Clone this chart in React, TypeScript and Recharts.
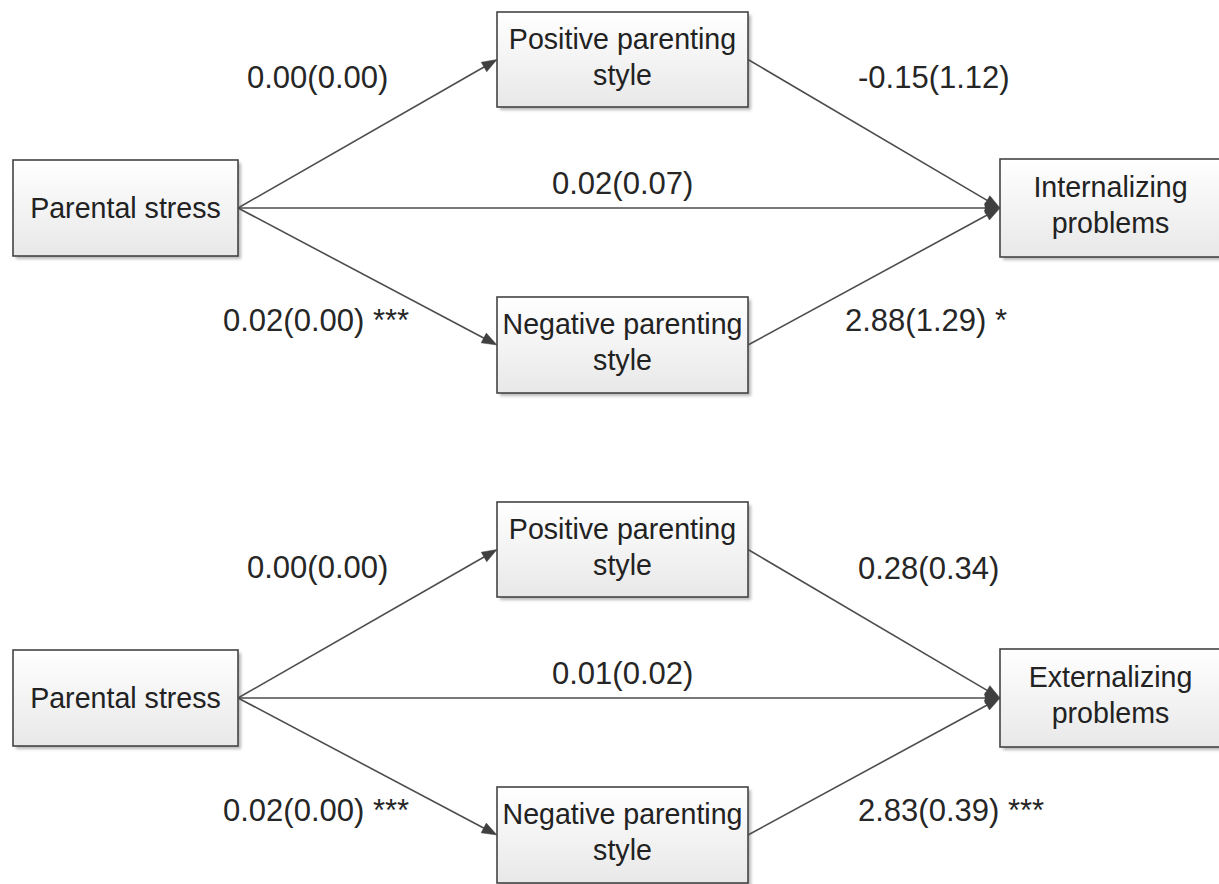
import React from 'react';
import { ComposedChart, XAxis, YAxis, ReferenceLine, ReferenceArea, Scatter } from 'recharts';

const W = 1219;
const H = 884;

// Nodes of the two path models (diagram space, y grows downward)
const nodeLabels: string[][] = [
  ['Parental stress'],
  ['Positive parenting', 'style'],
  ['Negative parenting', 'style'],
  ['Internalizing', 'problems'],
  ['Parental stress'],
  ['Positive parenting', 'style'],
  ['Negative parenting', 'style'],
  ['Externalizing', 'problems'],
];
const nodeLeft = [13, 497, 497, 1000, 13, 497, 497, 1000];
const nodeRight = [238, 748, 748, 1221, 238, 748, 748, 1221];
const nodeTop = [160, 12, 297, 159, 650, 502, 787, 649];
const nodeBottom = [256, 107, 393, 257, 746, 597, 883, 747];

// Paths: source node -> target node, with coefficient (SE) labels
const edgeFrom = [0, 0, 0, 1, 2, 4, 4, 4, 5, 6];
const edgeTo = [1, 2, 3, 3, 3, 5, 6, 7, 7, 7];
const coefText = [
  '0.00(0.00)',
  '0.02(0.00) ***',
  '0.02(0.07)',
  '-0.15(1.12)',
  '2.88(1.29) *',
  '0.00(0.00)',
  '0.02(0.00) ***',
  '0.01(0.02)',
  '0.28(0.34)',
  '2.83(0.39) ***',
];
const coefX = [247, 223, 552, 858, 845, 247, 223, 552, 858, 858];
const coefY = [88, 331, 194, 88, 331, 578, 821, 684, 579, 821];

const FONT = '"Liberation Sans", Arial, sans-serif';
const LINE = '#4d4d4d';

const midY = (i: number) => (nodeTop[i] + nodeBottom[i]) / 2;

const edges = edgeFrom.map((f, i) => ({
  x1: nodeRight[f],
  y1: midY(f),
  x2: nodeLeft[edgeTo[i]],
  y2: midY(edgeTo[i]),
}));

const labelData = coefText.map((t, i) => ({ x: coefX[i], y: coefY[i], text: t }));

const ArrowShape = (p: any) => {
  const { x1, y1, x2, y2 } = p;
  const dx = x2 - x1;
  const dy = y2 - y1;
  const len = Math.hypot(dx, dy) || 1;
  const ux = dx / len;
  const uy = dy / len;
  const L = 15;
  const hw = 5.5;
  const bx = x2 - ux * L;
  const by = y2 - uy * L;
  const pts = `${x2},${y2} ${bx - uy * hw},${by + ux * hw} ${bx + uy * hw},${by - ux * hw}`;
  return (
    <g>
      <line x1={x1} y1={y1} x2={bx + ux * 2} y2={by + uy * 2} stroke={LINE} strokeWidth={1.6} />
      <polygon points={pts} fill="#404040" stroke="#404040" strokeWidth={0.5} strokeLinejoin="round" />
    </g>
  );
};

const makeBox = (idx: number) => (p: any) => {
  const { x, y, width, height } = p;
  const lines = nodeLabels[idx];
  const cx = x + width / 2;
  const cy = y + height / 2;
  const gid = `g${idx}`;
  const fid = `f${idx}`;
  return (
    <g>
      <defs>
        <linearGradient id={gid} x1="0" y1="0" x2="0" y2="1">
          <stop offset="0" stopColor="#ffffff" />
          <stop offset="1" stopColor="#e8e8e8" />
        </linearGradient>
        <filter id={fid} x="-10%" y="-10%" width="130%" height="140%">
          <feDropShadow dx="3" dy="3" stdDeviation="1.6" floodColor="#000" floodOpacity="0.28" />
        </filter>
      </defs>
      <rect x={x} y={y} width={width} height={height} fill={`url(#${gid})`} filter={`url(#${fid})`} />
      <rect x={x} y={y} width={width} height={height} fill={`url(#${gid})`} stroke="#444" strokeWidth={1.6} />
      {lines.length === 1 ? (
        <text x={cx} y={cy + 10} textAnchor="middle" fontFamily={FONT} fontSize={28.6} fill="#222">
          {lines[0]}
        </text>
      ) : (
        lines.map((t, k) => (
          <text key={k} x={cx} y={cy - 11 + k * 36} textAnchor="middle" fontFamily={FONT} fontSize={28.6} fill="#222">
            {t}
          </text>
        ))
      )}
    </g>
  );
};

const LabelShape = (p: any) => {
  const { cx, cy, payload } = p;
  return (
    <text x={cx} y={cy} textAnchor="start" fontFamily={FONT} fontSize={31} fill="#262626">
      {payload.text}
    </text>
  );
};

export default function App() {
  return (
    <div style={{ position: 'absolute', left: 0, top: 0, width: W, height: H, background: '#fff' }}>
      <ComposedChart width={W} height={H} margin={{ top: 0, right: 0, bottom: 0, left: 0 }}>
        <XAxis type="number" dataKey="x" domain={[0, W]} hide allowDataOverflow />
        <YAxis type="number" dataKey="y" domain={[0, H]} reversed hide allowDataOverflow />
        {edges.map((e, i) => (
          <ReferenceLine
            key={`e${i}`}
            segment={[
              { x: e.x1, y: e.y1 },
              { x: e.x2, y: e.y2 },
            ]}
            ifOverflow="visible"
            shape={ArrowShape}
          />
        ))}
        {nodeLabels.map((_, i) => (
          <ReferenceArea
            key={`n${i}`}
            x1={nodeLeft[i]}
            x2={nodeRight[i]}
            y1={nodeTop[i]}
            y2={nodeBottom[i]}
            ifOverflow="visible"
            shape={makeBox(i)}
          />
        ))}
        <Scatter data={labelData} dataKey="y" shape={LabelShape} isAnimationActive={false} />
      </ComposedChart>
    </div>
  );
}
